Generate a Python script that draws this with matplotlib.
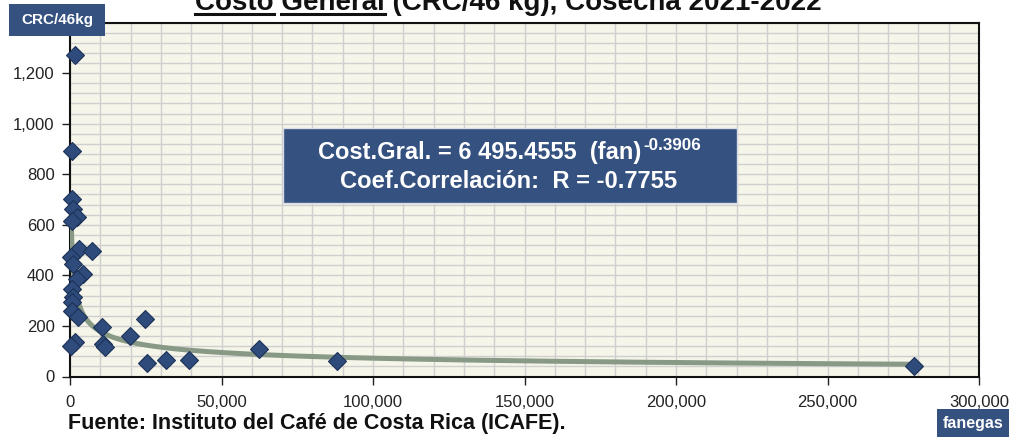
import numpy as np
import matplotlib
matplotlib.use('Agg')
import matplotlib.pyplot as plt
from matplotlib.patches import Rectangle
from matplotlib.ticker import FuncFormatter, MultipleLocator, FixedLocator

# data (fanegas, CRC/46kg)
fanegas = [1650, 550, 750, 1100, 2400, 550, 3070, 7150, 350, 900,
           4400, 2200, 750, 1100, 750, 550, 2750, 10450, 24750, 19800,
           1650, 250, 11000, 11550, 25300, 31700, 39400, 62300, 88000, 278500]
costo = [1272, 890, 702, 662, 629, 616, 504, 495, 474, 445,
         405, 386, 346, 313, 293, 260, 234, 197, 228, 162,
         136, 122, 129, 116, 54, 66, 66, 109, 63, 42]

# power trend line given on the chart
coef_a = 6495.4555
coef_b = -0.3906
x_start, x_end = 430, 278500

y_ticks = [0, 200, 400, 600, 800, 1000, 1200]

title = 'Costo General (CRC/46 kg), Cosecha 2021-2022'
eq_main = 'Cost.Gral. = 6 495.4555  (fan)'
eq_exp = '-0.3906'
eq_r = 'Coef.Correlación:  R = -0.7755'
source = 'Fuente: Instituto del Café de Costa Rica (ICAFE).'

W, H = 1011, 437
plt.rcParams['font.family'] = ['Liberation Sans', 'DejaVu Sans']

fig = plt.figure(figsize=(W / 100, H / 100), dpi=100)
fig.patch.set_facecolor('white')

def fx(px):
    return px / W

def fy(py):
    return 1 - py / H

ax = fig.add_axes([fx(70), fy(376.5), fx(979) - fx(70), fy(22.5) - fy(376.5)])
ax.set_facecolor('#f6f5e9')

ax.set_xlim(0, 300000)
ax.set_ylim(0, 1400)
ax.xaxis.set_major_locator(MultipleLocator(50000))
ax.xaxis.set_minor_locator(MultipleLocator(10000))
ax.yaxis.set_major_locator(FixedLocator(y_ticks))
ax.yaxis.set_minor_locator(MultipleLocator(40))
ax.grid(True, which='both', color='#cfcfcf', lw=1.0)
ax.set_axisbelow(True)

fmt = FuncFormatter(lambda v, p: f'{int(v):,}')
ax.xaxis.set_major_formatter(fmt)
ax.yaxis.set_major_formatter(fmt)
ax.tick_params(which='minor', length=0)
ax.tick_params(which='major', direction='out', length=6, width=1, labelsize=12,
               colors='#222222', pad=5)
ax.tick_params(axis='x', pad=7)
for s in ax.spines.values():
    s.set_color('#111111')
    s.set_linewidth(1.5)

# trend line
xt = np.linspace(x_start, x_end, 3000)
xt = np.concatenate([np.geomspace(x_start, 20000, 400), xt[xt > 20000]])
ax.plot(xt, coef_a * xt ** coef_b, color='#889a86', lw=3.6, zorder=3,
        solid_capstyle='butt')

ax.plot(fanegas, costo, ls='none', marker='D', ms=9.5, mfc='#2e4b7c',
        mec='#1d3358', mew=0.8, zorder=4, clip_on=False)

renderer = fig.canvas.get_renderer()

def fit_text(x, y, s, width, fs=12, **kw):
    t = fig.text(x, y, s, fontsize=fs, **kw)
    w = t.get_window_extent(renderer).width
    t.set_fontsize(fs * width / w)
    return t

# title, partly cut at the top edge as in the original
tt = fit_text(fx(195), fy(10), title, 627, fs=20, fontweight='bold',
              va='baseline', ha='left', color='#111111')
tfs = tt.get_fontsize()
for word_start, word in [('', 'Costo'), ('Costo ', 'General')]:
    if word_start:
        t0 = fig.text(0, 0, word_start, fontsize=tfs, fontweight='bold')
        off = t0.get_window_extent(renderer).width
        t0.remove()
    else:
        off = 0
    t1 = fig.text(0, 0, word, fontsize=tfs, fontweight='bold')
    wl = t1.get_window_extent(renderer).width
    t1.remove()
    fig.add_artist(plt.Line2D([fx(195 + off), fx(195 + off + wl)],
                              [fy(14), fy(14)], color='#111111', lw=2.2))

# y unit box
fig.add_artist(Rectangle((fx(9), fy(36)), fx(105) - fx(9), fy(4) - fy(36),
                         transform=fig.transFigure, facecolor='#34517f',
                         edgecolor='none', zorder=5))
fig.text(fx(57), fy(20), 'CRC/46kg', color='white', fontweight='bold',
         fontsize=11, ha='center', va='center', zorder=6)

# x unit box
fig.add_artist(Rectangle((fx(937), fy(437)), fx(1009) - fx(937), fy(409) - fy(437),
                         transform=fig.transFigure, facecolor='#34517f',
                         edgecolor='none', zorder=5))
fig.text(fx(973), fy(423.5), 'fanegas', color='white', fontweight='bold',
         fontsize=11.5, ha='center', va='center', zorder=6)

# equation box
fig.add_artist(Rectangle((fx(283), fy(203)), fx(737) - fx(283), fy(128) - fy(203),
                         transform=fig.transFigure, facecolor='#34517f',
                         edgecolor='#d8dce6', lw=1, zorder=5))
fit_text(fx(318), fy(159), eq_main, 323, fs=15, fontweight='bold', color='white',
         va='baseline', ha='left', zorder=6)
fit_text(fx(643), fy(150), eq_exp, 58, fs=10, fontweight='bold', color='white',
         va='baseline', ha='left', zorder=6)
fit_text(fx(340), fy(188), eq_r, 339, fs=15, fontweight='bold', color='white',
         va='baseline', ha='left', zorder=6)

# source note
fit_text(fx(68), fy(429), source, 497, fs=13, fontweight='bold', color='#111111',
         va='baseline', ha='left')

fig.savefig('out.png', dpi=100)
